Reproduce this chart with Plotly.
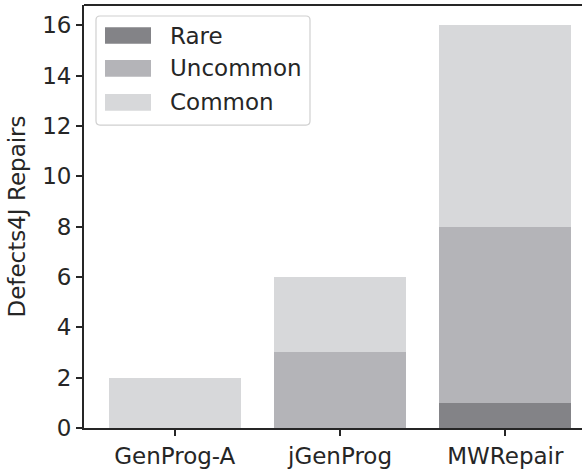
import plotly.graph_objects as go

categories = ["GenProg-A", "jGenProg", "MWRepair"]
rare = [0, 0, 1]
uncommon = [0, 3, 7]
common = [2, 3, 8]
series_names = ["Rare", "Uncommon", "Common"]
colors = ["#838387", "#b4b4b8", "#d7d8da"]
y_ticks = [0, 2, 4, 6, 8, 10, 12, 14, 16]

W, H = 582, 469
L, R, T, B = 84, 0, 5, 41.4
FONT = "DejaVu Sans"
INK = "#262626"

fig = go.Figure()
x_idx = list(range(len(categories)))
for name, vals, col in zip(series_names, [rare, uncommon, common], colors):
    fig.add_trace(go.Bar(
        x=x_idx, y=vals, name=name, width=0.8,
        marker=dict(color=col, line=dict(width=0)),
        showlegend=False,
    ))

pw = W - L - R
ph = H - T - B


def px(xp):
    return (xp - L) / pw


def py(yp):
    return (H - B - yp) / ph


shapes = []
# legend frame with rounded corners
x0, x1, y0, y1, r = 96, 310, 16, 125, 4
path = (
    f"M {px(x0 + r)},{py(y0)} L {px(x1 - r)},{py(y0)} "
    f"Q {px(x1)},{py(y0)} {px(x1)},{py(y0 + r)} "
    f"L {px(x1)},{py(y1 - r)} Q {px(x1)},{py(y1)} {px(x1 - r)},{py(y1)} "
    f"L {px(x0 + r)},{py(y1)} Q {px(x0)},{py(y1)} {px(x0)},{py(y1 - r)} "
    f"L {px(x0)},{py(y0 + r)} Q {px(x0)},{py(y0)} {px(x0 + r)},{py(y0)} Z"
)
shapes.append(dict(type="path", xref="paper", yref="paper", path=path,
                   fillcolor="rgba(255,255,255,0.8)",
                   line=dict(color="#d0d0d0", width=1.2)))
annotations = []
rows = [(27.3, 43.7), (60, 76.7), (94, 110.7)]
for (ya, yb), name, col in zip(rows, series_names, colors):
    shapes.append(dict(type="rect", xref="paper", yref="paper",
                       x0=px(105), x1=px(151), y0=py(yb), y1=py(ya),
                       fillcolor=col, line=dict(width=0)))
    annotations.append(dict(xref="paper", yref="paper", x=px(168),
                            y=py((ya + yb) / 2), text=name, showarrow=False,
                            xanchor="left", yanchor="middle",
                            font=dict(family=FONT, size=23, color=INK)))

fig.update_layout(
    barmode="stack",
    width=W, height=H,
    margin=dict(l=L, r=R, t=T, b=B, pad=0),
    paper_bgcolor="white", plot_bgcolor="white",
    font=dict(family=FONT, size=23, color=INK),
    shapes=shapes, annotations=annotations,
    bargap=0,
)
fig.update_xaxes(
    range=[-0.549, 2.464], tickmode="array", tickvals=x_idx, ticktext=categories,
    showline=True, linecolor=INK, linewidth=1.8, mirror=False,
    ticks="outside", ticklen=6, tickwidth=1.5, tickcolor=INK,
    showgrid=False, zeroline=False,
    tickfont=dict(family=FONT, size=23, color=INK),
)
fig.update_yaxes(
    range=[0, 16.8], tickmode="array", tickvals=y_ticks,
    showline=True, linecolor=INK, linewidth=1.8,
    ticks="outside", ticklen=6, tickwidth=1.5, tickcolor=INK,
    showgrid=False, zeroline=False,
    tickfont=dict(family=FONT, size=23, color=INK),
    title=dict(text="Defects4J Repairs", standoff=10,
               font=dict(family=FONT, size=23, color=INK)),
)
# top spine
fig.add_shape(type="line", xref="paper", yref="paper", x0=0, x1=1, y0=1, y1=1,
              line=dict(color=INK, width=1.8), layer="above")

fig.write_html("out.html")
